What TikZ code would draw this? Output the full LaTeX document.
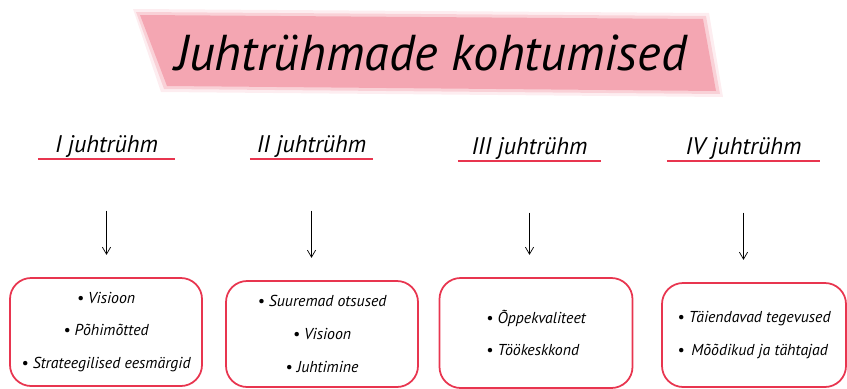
\documentclass[tikz,border=0pt]{standalone}
\usepackage{fontspec}
\setmainfont{PT Sans}
\usetikzlibrary{arrows.meta}
\definecolor{bannerpink}{HTML}{F4A6B2}
\definecolor{linered}{HTML}{E8354F}

\begin{document}
\begin{tikzpicture}[x=0.03cm,y=-0.03cm,
    >={Straight Barb[length=6pt,width=7pt]},
    head/.style={anchor=south,inner xsep=0pt,inner ysep=1pt,text depth=4pt,
      font=\itshape\fontsize{20.5}{24}\selectfont},
    uline/.style={draw=linered,line width=1.3pt},
    group/.style={draw=linered,line width=1.5pt,rounded corners=18pt,
      font=\itshape\fontsize{13.5}{28}\selectfont},
    link/.style={->,line width=0.6pt,shorten <=44pt,shorten >=19pt}]
  \useasboundingbox (0,0) rectangle (847,388);

  % title banner
  \fill[bannerpink,opacity=0.2] (133,9) -- (709,13) -- (723,97) -- (161,92) -- cycle;
  \fill[bannerpink,opacity=0.4] (136,12) -- (706,16) -- (720,94) -- (164,89) -- cycle;
  \fill[bannerpink] (140,15) -- (703,19) -- (716,91) -- (167,86) -- cycle;
  \node[anchor=base,font=\itshape\fontsize{43}{50}\selectfont] (T) at (431,70) {Juhtrühmade kohtumised};

  % headings
  \node[head,minimum width=4.11cm] (H1) at (106.5,159) {I juhtrühm};
  \node[head,minimum width=3.69cm] (H2) at (311.5,159) {II juhtrühm};
  \node[head,minimum width=4.29cm] (H3) at (529.5,161) {III juhtrühm};
  \node[head,minimum width=4.59cm] (H4) at (743.5,161) {IV juhtrühm};
  \foreach \h in {H1,H2,H3,H4}
    \draw[uline] (\h.south west) -- (\h.south east);

  % boxes
  \node[group,align=center,minimum width=5.76cm,minimum height=3.24cm] (B1) at (106,332)
    {• Visioon\\ • Põhimõtted\\ • Strateegilised eesmärgid};
  \node[group,align=center,minimum width=5.76cm,minimum height=3.18cm] (B2) at (322,334)
    {• Suuremad otsused\\ • Visioon\\ • Juhtimine};
  \node[group,align=left,minimum width=5.79cm,minimum height=3.3cm] (B3) at (536,333)
    {• Õppekvaliteet\\ • Töökeskkond};
  \node[group,align=left,minimum width=5.52cm,minimum height=3.12cm] (B4) at (754,335)
    {• Täiendavad tegevused\\ • \,Mõõdikud ja tähtajad};

  % arrows
  \draw[link] (H1.south) to (H1.south |- B1.north);
  \draw[link] (H2.south) to (H2.south |- B2.north);
  \draw[link] (H3.south) to (H3.south |- B3.north);
  \draw[link] (H4.south) to (H4.south |- B4.north);
\end{tikzpicture}
\end{document}
